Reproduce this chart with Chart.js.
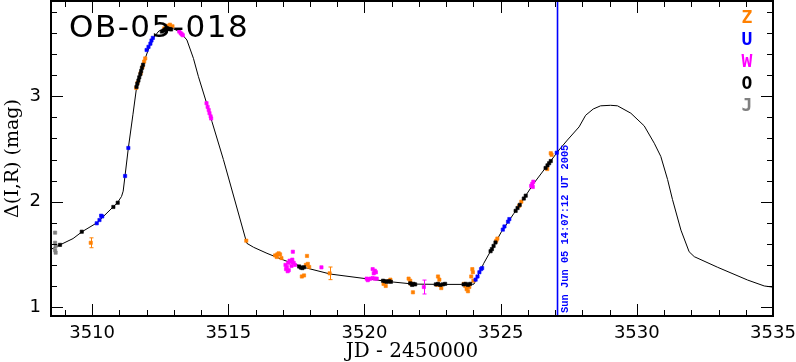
<!DOCTYPE html>
<html>
<head>
<meta charset="utf-8">
<script src="https://cdn.jsdelivr.net/npm/chart.js@4.4.0/dist/chart.umd.min.js"></script>
<style>
  html, body { margin: 0; padding: 0; background: #fff; }
  #wrap { width: 796px; height: 362px; }
</style>
</head>
<body>
<div id="wrap"><canvas id="lc" width="796" height="362"></canvas></div>
<script>
// OB-05-018 light curve, JD - 2450000 vs magnification in mag
const eventName = 'OB-05-018';
const markTime = 3527.088;            // Sun Jun 05 14:07:12 UT 2005
const markLabel = 'Sun Jun 05 14:07:12 UT 2005';
const xRange = [3508.49, 3535];
const yRange = [0.915, 3.905];

// model curve
const modelX = [3508.49, 3508.82, 3509.3, 3509.63, 3510.18, 3510.77, 3510.93, 3511.08, 3511.14, 3511.21,
  3511.33, 3511.5, 3511.64, 3511.88, 3512.19, 3512.45, 3512.79, 3513.0, 3513.23, 3513.48,
  3513.72, 3513.9, 3514.21, 3514.4, 3514.82, 3515.01, 3515.68, 3515.93, 3516.42,
  3517.03, 3517.77, 3518.75, 3520.03, 3520.95, 3521.81, 3522.79, 3523.96, 3524.02, 3524.38,
  3525.03, 3525.49, 3526.22, 3527.14, 3527.45, 3527.88, 3528.12, 3528.4, 3528.67, 3529.04,
  3529.29, 3529.78, 3530.27, 3530.64, 3530.88, 3531.13, 3531.31, 3531.62, 3531.92, 3532.11,
  3532.97, 3534.07, 3534.68, 3535.05];
const modelY = [1.548, 1.59, 1.65, 1.715, 1.80, 1.95, 1.99, 2.05, 2.10, 2.25,
  2.51, 2.83, 3.10, 3.31, 3.535, 3.62, 3.65, 3.64, 3.61, 3.535,
  3.36, 3.19, 2.93, 2.76, 2.40, 2.225, 1.605, 1.567, 1.51,
  1.446, 1.377, 1.313, 1.27, 1.24, 1.218, 1.215, 1.215, 1.218, 1.415,
  1.715, 1.89, 2.175, 2.49, 2.585, 2.71, 2.82, 2.88, 2.91, 2.915,
  2.91, 2.84, 2.72, 2.555, 2.43, 2.21, 2.02, 1.73, 1.525, 1.478,
  1.377, 1.256, 1.20, 1.187];

// observations [JD, mag, errorbar]
const obsZ = [[3509.95, 1.61, 0.047],
  [3511.62, 3.08], [3511.67, 3.13], [3511.78, 3.22], [3511.85, 3.28], [3511.91, 3.33], [3511.95, 3.36],
  [3512.65, 3.645], [3512.75, 3.67], [3512.86, 3.68], [3512.95, 3.665],
  [3515.66, 1.63],
  [3516.72, 1.49], [3516.78, 1.475], [3516.8, 1.50], [3516.85, 1.51], [3516.9, 1.50], [3516.95, 1.465],
  [3517.89, 1.485], [3517.85, 1.40], [3517.92, 1.41], [3517.97, 1.38], [3517.70, 1.29], [3517.78, 1.30],
  [3518.72, 1.32, 0.06],
  [3520.70, 1.22], [3520.78, 1.20], [3520.88, 1.245], [3520.95, 1.26],
  [3521.62, 1.27], [3521.68, 1.25], [3521.72, 1.22], [3521.78, 1.14],
  [3522.70, 1.29], [3522.67, 1.21], [3522.75, 1.26], [3522.82, 1.18],
  [3523.65, 1.22], [3523.70, 1.20], [3523.75, 1.17], [3523.80, 1.15], [3523.85, 1.19],
  [3523.92, 1.29], [3523.96, 1.36], [3523.98, 1.33], [3524.0, 1.25],
  [3524.84, 1.63], [3524.88, 1.65], [3525.68, 1.96], [3525.76, 2.0],
  [3526.71, 2.31], [3526.87, 2.445], [3526.84, 2.46]];
const obsU = [[3510.17, 1.795], [3510.27, 1.826], [3510.33, 1.867], [3510.37, 1.86], [3511.21, 2.244], [3511.33, 2.51],
  [3512.0, 3.44], [3512.07, 3.47], [3512.14, 3.50], [3512.18, 3.53], [3512.23, 3.555],
  [3524.08, 1.26], [3524.15, 1.29], [3524.22, 1.33], [3524.28, 1.36], [3524.32, 1.37],
  [3525.08, 1.735], [3525.14, 1.765], [3525.27, 1.81], [3525.32, 1.835],
  [3527.06, 2.465]];
const obsW = [[3513.2, 3.615], [3513.25, 3.60], [3513.29, 3.59], [3513.33, 3.58],
  [3514.20, 2.935], [3514.24, 2.90], [3514.28, 2.87], [3514.31, 2.84], [3514.35, 2.81], [3514.37, 2.79],
  [3517.37, 1.525],
  [3517.10, 1.40], [3517.15, 1.38], [3517.20, 1.42], [3517.25, 1.44], [3517.30, 1.43], [3517.35, 1.45],
  [3517.40, 1.42], [3517.12, 1.36], [3517.22, 1.35], [3517.32, 1.39], [3517.45, 1.40], [3517.18, 1.34],
  [3518.42, 1.377],
  [3520.30, 1.36], [3520.38, 1.345], [3520.34, 1.32], [3520.42, 1.33],
  [3520.08, 1.27], [3520.15, 1.265], [3520.22, 1.27], [3520.30, 1.275], [3520.38, 1.27], [3520.45, 1.27],
  [3520.12, 1.255],
  [3522.18, 1.19, 0.066],
  [3526.12, 2.15], [3526.16, 2.17], [3526.2, 2.19], [3526.18, 2.14]];
const obsO = [[3508.82, 1.59], [3509.62, 1.715], [3510.78, 1.95], [3510.94, 1.99],
  [3511.63, 3.09], [3511.66, 3.12], [3511.70, 3.15], [3511.73, 3.18], [3511.77, 3.21], [3511.80, 3.24], [3511.83, 3.27], [3511.87, 3.30],
  [3512.56, 3.615], [3512.62, 3.625], [3512.68, 3.635], [3512.72, 3.64], [3512.76, 3.645], [3512.80, 3.64], [3512.85, 3.64], [3512.90, 3.635],
  [3517.60, 1.385], [3517.66, 1.375], [3517.72, 1.37], [3517.78, 1.378],
  [3520.68, 1.25], [3520.75, 1.245], [3520.82, 1.24], [3520.90, 1.245], [3520.97, 1.24],
  [3521.68, 1.225], [3521.75, 1.21], [3521.80, 1.22], [3521.86, 1.215],
  [3522.62, 1.215], [3522.70, 1.22], [3522.78, 1.21], [3522.88, 1.215], [3522.96, 1.22],
  [3523.64, 1.215], [3523.72, 1.22], [3523.80, 1.21], [3523.88, 1.22],
  [3524.63, 1.53], [3524.68, 1.55], [3524.74, 1.58], [3524.81, 1.613],
  [3525.55, 1.913], [3525.62, 1.94], [3525.70, 1.97], [3525.85, 2.03], [3525.92, 2.057],
  [3526.65, 2.32], [3526.72, 2.345], [3526.78, 2.365], [3526.84, 2.386]];
const obsJ = [[3508.64, 1.706], [3508.64, 1.61], [3508.66, 1.58], [3508.64, 1.54], [3508.66, 1.516]];

const observatories = ['Z', 'U', 'W', 'O', 'J'];
const obsColors = ['#ff8000', '#0000ff', '#ff00ff', '#000000', '#808080'];

const toPts = arr => arr.map(p => ({ x: p[0], y: p[1], e: p[2] || 0 }));
const isMajor = (v, step) => Math.abs(v / step - Math.round(v / step)) < 1e-6;

function obsDataset(name, data) {
  const c = obsColors[observatories.indexOf(name)];
  return {
    label: name,
    data: toPts(data),
    showLine: false,
    pointStyle: 'rect',
    pointRadius: 2.3,
    pointHoverRadius: 0,
    borderWidth: 0.6,
    backgroundColor: c,
    borderColor: c
  };
}

const decorations = {
  id: 'decorations',
  afterDatasetsDraw(chart) {
    const ctx = chart.ctx;
    const xs = chart.scales.x, ys = chart.scales.y;
    ctx.save();
    ctx.lineWidth = 1;
    chart.data.datasets.forEach(ds => {
      ds.data.forEach(p => {
        if (!p.e) return;
        const px = Math.round(xs.getPixelForValue(p.x)) + 0.5;
        const y1 = ys.getPixelForValue(p.y - p.e);
        const y2 = ys.getPixelForValue(p.y + p.e);
        ctx.strokeStyle = ds.borderColor;
        ctx.beginPath();
        ctx.moveTo(px, y1); ctx.lineTo(px, y2);
        ctx.moveTo(px - 2, y1); ctx.lineTo(px + 2, y1);
        ctx.moveTo(px - 2, y2); ctx.lineTo(px + 2, y2);
        ctx.stroke();
      });
    });
    ctx.restore();
  },
  afterDraw(chart) {
    const ctx = chart.ctx;
    const a = chart.chartArea;
    const xs = chart.scales.x, ys = chart.scales.y;
    ctx.save();

    // frame
    ctx.strokeStyle = '#000';
    ctx.lineWidth = 2;
    ctx.strokeRect(Math.round(a.left), Math.round(a.top), Math.round(a.right - a.left), Math.round(a.bottom - a.top));

    // inward ticks on all four sides
    ctx.lineWidth = 1;
    ctx.beginPath();
    xs.ticks.forEach(t => {
      const px = Math.round(xs.getPixelForValue(t.value)) + 0.5;
      const len = isMajor(t.value, 5) ? 12 : 6;
      ctx.moveTo(px, a.bottom); ctx.lineTo(px, a.bottom - len);
      ctx.moveTo(px, a.top); ctx.lineTo(px, a.top + len);
    });
    ys.ticks.forEach(t => {
      const py = Math.round(ys.getPixelForValue(t.value)) + 0.5;
      const len = isMajor(t.value, 1) ? 12 : 6;
      ctx.moveTo(a.left, py); ctx.lineTo(a.left + len, py);
      ctx.moveTo(a.right, py); ctx.lineTo(a.right - len, py);
    });
    ctx.stroke();

    // event name
    ctx.fillStyle = '#000';
    ctx.font = '31px "DejaVu Sans"';
    ctx.letterSpacing = '1.5px';
    ctx.textAlign = 'left';
    ctx.textBaseline = 'alphabetic';
    ctx.fillText(eventName, a.left + 18, a.top + 36);
    ctx.letterSpacing = '0px';

    // observatory key
    ctx.font = 'bold 18px "DejaVu Sans Mono"';
    ctx.textAlign = 'center';
    ctx.textBaseline = 'middle';
    observatories.forEach((name, i) => {
      ctx.fillStyle = obsColors[i];
      ctx.fillText(name, a.right - 26, a.top + 17 + i * 22);
    });

    // date of the current time marker
    const mx = xs.getPixelForValue(markTime);
    ctx.translate(mx + 10, a.bottom - 3);
    ctx.rotate(-Math.PI / 2);
    ctx.font = 'bold 10.4px "Liberation Mono"';
    ctx.fillStyle = '#0000ff';
    ctx.textAlign = 'left';
    ctx.textBaseline = 'alphabetic';
    ctx.fillText(markLabel, 0, 0);
    ctx.restore();
  }
};

new Chart(document.getElementById('lc').getContext('2d'), {
  type: 'scatter',
  data: {
    datasets: [
      obsDataset('O', obsO),
      obsDataset('U', obsU),
      obsDataset('W', obsW),
      obsDataset('Z', obsZ),
      obsDataset('J', obsJ),
      {
        label: 'model',
        data: modelX.map((x, i) => ({ x: x, y: modelY[i] })),
        showLine: true,
        borderColor: '#000',
        borderWidth: 1,
        pointRadius: 0,
        pointHoverRadius: 0,
        tension: 0
      },
      {
        label: 'now',
        data: [{ x: markTime, y: yRange[0] }, { x: markTime, y: yRange[1] }],
        showLine: true,
        borderColor: '#0000ff',
        backgroundColor: '#0000ff',
        borderWidth: 1.6,
        pointRadius: 0,
        pointHoverRadius: 0
      }
    ]
  },
  options: {
    responsive: false,
    animation: false,
    events: [],
    layout: { autoPadding: false, padding: { left: 0, right: 23, top: 1, bottom: 0 } },
    plugins: { legend: { display: false }, tooltip: { enabled: false } },
    scales: {
      x: {
        type: 'linear',
        min: xRange[0],
        max: xRange[1],
        afterFit: s => { s.height = 46; s.paddingLeft = 0; s.paddingRight = 0; },
        grid: { display: false, drawTicks: false },
        border: { display: false },
        ticks: {
          stepSize: 1,
          includeBounds: false,
          autoSkip: false,
          maxRotation: 0,
          padding: 7,
          color: '#000',
          font: { family: 'DejaVu Sans', size: 18 },
          callback: v => isMajor(v, 5) ? String(Math.round(v)) : ''
        },
        title: {
          display: true,
          text: 'JD - 2450000',
          color: '#000',
          font: { family: 'DejaVu Serif', size: 20, lineHeight: 1 },
          padding: { top: 0, bottom: 0 }
        }
      },
      y: {
        type: 'linear',
        min: yRange[0],
        max: yRange[1],
        afterFit: s => { s.width = 51; s.paddingTop = 0; s.paddingBottom = 0; },
        grid: { display: false, drawTicks: false },
        border: { display: false },
        ticks: {
          stepSize: 0.2,
          includeBounds: false,
          autoSkip: false,
          padding: 10,
          color: '#000',
          font: { family: 'DejaVu Sans', size: 18 },
          callback: v => isMajor(v, 1) ? String(Math.round(v)) : ''
        },
        title: {
          display: true,
          text: 'Δ(I,R) (mag)',
          color: '#000',
          font: { family: 'DejaVu Serif', size: 19 },
          padding: { top: 2, bottom: 0 }
        }
      }
    }
  },
  plugins: [decorations]
});
</script>
</body>
</html>
